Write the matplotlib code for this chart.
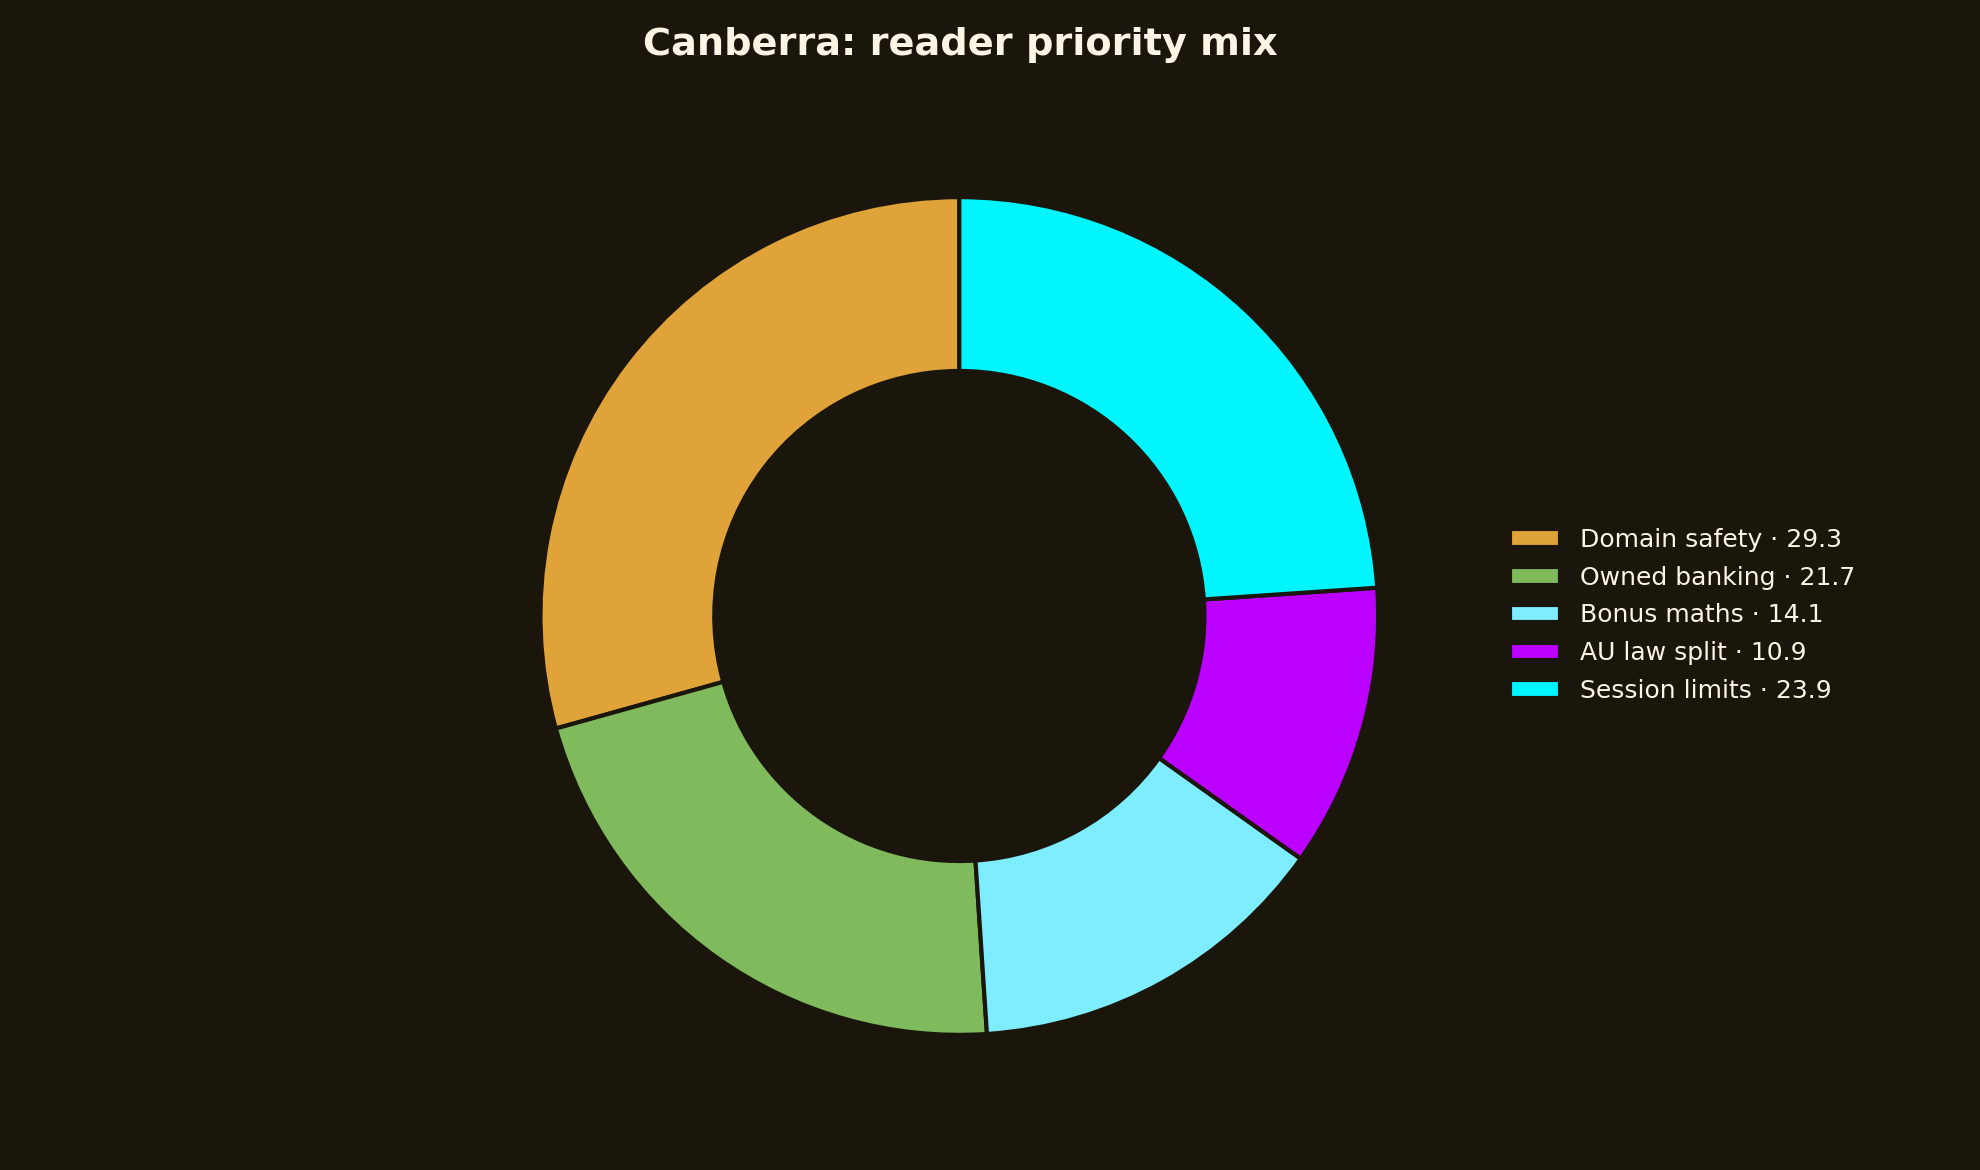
import matplotlib.pyplot as plt

labels = ['Domain safety', 'Owned banking', 'Bonus maths', 'AU law split', 'Session limits']
values = [29.3, 21.7, 14.1, 10.9, 23.9]
colors = ['#E0A33A', '#7FBA5C', '#7EEDFF', '#BB00FF', '#00F5FF']

bg = '#1a160b'
fg = '#fbf5e6'

fig = plt.figure(figsize=(19.8, 11.7), dpi=100, facecolor=bg)
ax = fig.add_axes([0.22, 0.026, 0.529, 0.895])
ax.set_facecolor(bg)

wedges, _ = ax.pie(values, colors=colors, startangle=90, counterclock=True,
                   wedgeprops=dict(width=0.415, edgecolor=bg, linewidth=3))
ax.set_aspect('equal')

leg_labels = [f'{l} \u00b7 {v}' for l, v in zip(labels, values)]
leg = fig.legend(wedges, leg_labels, loc='center left', bbox_to_anchor=(0.7515, 0.474),
                 frameon=False, fontsize=18, labelcolor=fg, labelspacing=0.55,
                 handlelength=2.0)

fig.text(960 / 1980, 0.9765, 'Canberra: reader priority mix', color=fg, fontsize=27.5,
         fontweight='bold', ha='center', va='top')

fig.savefig('out.png', dpi=100, facecolor=bg)
